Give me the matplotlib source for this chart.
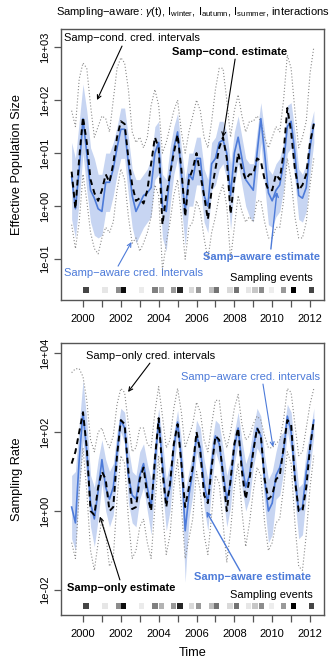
import numpy as np
import matplotlib
matplotlib.use('Agg')
import matplotlib.pyplot as plt
from matplotlib.transforms import blended_transform_factory

plt.rcParams['font.family'] = ['Liberation Sans', 'DejaVu Sans']
plt.rcParams['mathtext.fontset'] = 'custom'
plt.rcParams['mathtext.rm'] = 'Liberation Sans'
plt.rcParams['mathtext.it'] = 'Liberation Sans:italic'

BLUE = '#4d7bd9'
BAND = '#c7d5f2'
DOT = '#8a8a8a'
AXC = '#555555'
M = '\u2212'

# time grid (years), values below are log10
time = np.linspace(1999.4, 2012.2, 65)

# --- top: effective population size
ne_aware = [0.55, -0.05, 0.7, 1.65, 1.0, 0.3, 0.15, -0.05, -0.1, 0.45, 0.45, 0.7, 1.1,
            1.45, 1.45, 0.8, 0.2, -0.1, 0.05, 0.2, 0.25, 0.35, 1.0, 1.2, 0.0, -0.1,
            0.6, 1.1, 1.4, 0.6, -0.1, 0.6, 0.5, 0.9, 0.9, 0.2, 0.0, 0.8, 0.9, 1.2,
            1.25, 1.0, 0.2, 1.0, 1.3, 0.9, 0.5, 0.4, 0.3, 1.0, 1.65, 1.0, 0.25, 0.1,
            0.3, 0.4, 0.8, 1.5, 1.6, 1.0, 0.2, 0.15, 0.35, 1.1, 1.55]
ne_aware_hi = [1.2, 0.9, 1.6, 2.3, 1.8, 1.1, 0.9, 0.6, 0.6, 1.0, 1.0, 1.2, 1.5,
               1.85, 1.85, 1.3, 0.7, 0.5, 0.5, 0.6, 0.7, 0.9, 1.5, 1.6, 0.6, 0.5,
               1.1, 1.5, 1.75, 1.1, 0.5, 1.0, 1.0, 1.3, 1.3, 0.7, 0.5, 1.2, 1.3, 1.6,
               1.6, 1.4, 0.8, 1.4, 1.7, 1.3, 0.9, 0.8, 0.8, 1.4, 1.95, 1.4, 0.7, 0.6,
               0.8, 0.9, 1.2, 1.9, 1.95, 1.4, 0.7, 0.6, 0.8, 1.5, 1.8]
ne_aware_lo = [-0.25, -0.6, 0.1, 1.0, 0.3, -0.3, -0.55, -0.6, -0.55, -0.1, -0.1, 0.2, 0.6,
               0.9, 0.9, 0.2, -0.4, -0.7, -0.55, -0.4, -0.3, -0.2, 0.5, 0.6, -0.6, -0.85,
               0.0, 0.6, 0.9, 0.0, -0.75, 0.0, 0.0, 0.4, 0.4, -0.3, -0.5, 0.3, 0.4, 0.7,
               0.8, 0.5, -0.45, 0.4, 0.8, 0.4, 0.0, -0.2, -0.3, 0.5, 1.2, 0.4, -0.35, -0.4,
               -0.2, -0.1, 0.3, 1.0, 1.1, 0.5, -0.25, -0.3, -0.1, 0.6, 1.2]
ne_cond = [0.65, -0.05, 0.9, 1.68, 1.2, 0.5, 0.25, 0.1, 0.3, 0.6, 0.45, 0.8, 1.3,
           1.6, 1.55, 0.9, 0.4, 0.1, 0.15, 0.05, 0.3, 0.8, 1.3, 1.1, -0.35, 0.2,
           0.6, 1.0, 1.35, 0.7, -0.2, 0.5, 0.7, 1.0, 0.6, 0.2, -0.25, 0.3, 0.7, 1.1,
           1.3, 0.9, -0.15, 0.5, 1.0, 0.7, 0.5, 0.6, 0.6, 0.9, 0.85, 0.5, 0.3, 0.3,
           0.6, 0.5, 1.0, 1.85, 1.4, 0.7, 0.3, 0.4, 0.6, 1.2, 1.55]
ne_cond_hi = [1.8, 1.5, 2.4, 2.7, 2.6, 1.9, 1.3, 1.5, 1.7, 1.65, 1.4, 2.0, 2.6,
              2.8, 2.7, 2.2, 1.4, 1.2, 1.3, 1.1, 1.3, 1.9, 2.2, 1.9, 1.0, 1.2,
              1.5, 1.8, 2.0, 1.4, 1.0, 1.4, 1.7, 2.0, 1.8, 1.3, 1.1, 1.6, 2.2, 2.6,
              2.6, 2.0, 1.3, 1.8, 2.1, 1.7, 1.4, 1.6, 1.6, 1.7, 1.6, 1.3, 1.1, 1.3,
              1.5, 1.4, 2.0, 2.85, 2.6, 1.8, 1.1, 1.3, 1.6, 2.5, 3.0]
ne_cond_lo = [-0.35, -0.8, -0.3, 0.6, 0.1, -0.5, -0.8, -0.9, -0.6, -0.4, -0.5, -0.3, 0.3,
              0.7, 0.5, -0.2, -0.7, -0.6, -0.85, -0.7, -0.5, -0.2, 0.4, 0.2, -1.2, -0.7,
              -0.3, 0.2, 0.5, -0.2, -1.0, -0.4, -0.3, 0.1, -0.1, -0.6, -1.0, -0.5, -0.2, 0.2,
              0.4, 0.0, -1.0, -0.4, 0.2, -0.1, -0.3, -0.2, -0.3, 0.1, 0.1, -0.3, -0.6, -0.6,
              -0.4, -0.4, 0.1, 0.9, 0.5, -0.2, -0.6, -0.6, -0.3, 0.4, 0.9]

# --- bottom: sampling rate
sr_aware = [0.1, -0.3, 1.3, 2.5, 1.5, 0.2, -0.2, 0.5, 1.3, 0.6, 0.3, 0.6, 1.5,
            2.3, 2.1, 0.9, 0.4, 0.3, 0.9, 1.2, 0.6, 0.1, 1.2, 2.3, 1.2, 0.2,
            0.6, 1.6, 2.25, 1.3, -0.5, 0.4, 1.0, 1.9, 1.6, 0.7, 0.2, 1.2, 1.9, 1.7,
            1.0, 0.3, 0.7, 1.6, 2.1, 1.2, 0.6, 0.9, 1.6, 2.1, 1.9, 0.8, 0.0, 0.2,
            0.9, 1.1, 1.5, 2.4, 2.0, 0.9, 0.0, 0.1, 1.0, 1.6, 2.3]
sr_aware_hi = [0.9, 1.0, 2.2, 3.3, 2.3, 0.9, 0.6, 1.3, 1.8, 1.3, 1.0, 1.2, 2.0,
               2.6, 2.5, 1.6, 1.0, 0.9, 1.5, 1.7, 1.2, 0.8, 1.8, 2.6, 1.8, 0.8,
               1.2, 2.0, 2.55, 1.8, 0.5, 1.0, 1.5, 2.3, 2.1, 1.3, 0.8, 1.7, 2.3, 2.2,
               1.6, 0.9, 1.3, 2.0, 2.5, 1.8, 1.2, 1.5, 2.1, 2.6, 2.4, 1.4, 0.8, 1.0,
               1.5, 1.9, 2.0, 2.7, 2.5, 1.5, 0.6, 0.7, 1.5, 2.0, 2.6]
sr_aware_lo = [-0.7, -1.0, 0.5, 1.8, 0.8, -0.4, -0.9, -0.2, 0.7, 0.0, -0.4, -0.1, 1.0,
               2.0, 1.7, 0.2, -0.3, -0.4, 0.3, 0.6, 0.0, -0.6, 0.6, 2.0, 0.6, -0.5,
               0.0, 1.1, 1.9, 0.7, -1.8, -0.2, 0.4, 1.5, 1.1, 0.1, -0.5, 0.6, 1.5, 1.2,
               0.4, -0.4, 0.1, 1.2, 1.7, 0.6, 0.0, 0.3, 1.1, 1.6, 1.4, 0.2, -0.8, -0.6,
               0.3, 0.4, 1.0, 2.0, 1.5, 0.3, -0.7, -0.6, 0.4, 1.1, 1.9]
sr_only = [1.2, 1.5, 2.0, 2.5, 1.6, 0.0, -0.1, 0.6, 1.0, 0.8, 0.0, 0.1, 1.4,
           2.3, 2.2, 1.0, 0.05, 0.1, 0.8, 1.1, 0.4, 0.0, 1.3, 2.35, 1.0, 0.1,
           0.7, 1.7, 2.2, 1.2, 0.1, 0.6, 1.1, 2.0, 1.5, 0.4, 0.2, 1.1, 1.9, 1.8,
           0.9, 0.0, 0.8, 1.7, 2.1, 1.0, 0.3, 0.8, 1.5, 2.1, 1.9, 0.8, 0.3, 0.4,
           0.8, 0.9, 1.6, 2.3, 2.2, 0.8, 0.0, 0.0, 0.6, 1.6, 2.3]
sr_only_hi = [3.5, 3.6, 3.6, 3.4, 2.8, 1.8, 1.5, 2.0, 2.1, 1.8, 1.6, 1.9, 2.7,
              3.1, 3.0, 2.2, 1.5, 1.6, 2.1, 2.1, 1.7, 1.6, 2.5, 3.15, 2.4, 1.6,
              1.8, 2.6, 3.1, 2.5, 1.6, 1.9, 2.2, 2.75, 2.5, 1.8, 1.5, 2.2, 2.8, 2.8,
              2.0, 1.6, 2.0, 2.6, 2.95, 2.2, 1.8, 1.9, 2.2, 2.4, 2.3, 1.9, 1.6, 1.6,
              1.7, 1.8, 2.3, 3.1, 3.0, 2.2, 1.4, 1.5, 2.1, 2.7, 3.1]
sr_only_lo = [-0.8, -1.2, 0.5, 1.6, 0.5, -1.0, -1.5, -0.8, -0.2, -0.6, -1.4, -1.2, 0.3,
              1.4, 1.2, -0.2, -1.2, -1.0, -0.4, -0.2, -0.8, -1.2, 0.1, 1.4, 0.0, -1.1,
              -0.6, 0.6, 1.3, 0.1, -1.2, -0.7, -0.2, 1.0, 0.5, -0.6, -1.1, -0.1, 0.9, 0.7,
              -0.3, -1.3, -0.5, 0.6, 1.2, 0.0, -0.9, -0.3, 0.5, 1.1, 0.9, -0.3, -1.0, -0.8,
              -0.3, -0.2, 0.6, 1.5, 1.2, -0.3, -1.4, -1.5, -0.6, 0.6, 1.4]

# sampling events strip (time, grey level 0=black 1=white)
samp_time = [2000.16, 2001.16, 2001.87, 2002.13, 2003.10, 2003.81, 2004.16, 2004.77,
             2005.13, 2005.75, 2006.09, 2006.80, 2007.07, 2007.77, 2008.12, 2008.74,
             2009.09, 2009.45, 2009.97, 2010.59, 2011.12, 2012.09]
samp_grey = [0.27, 0.9, 0.55, 0.05, 0.92, 0.5, 0.7, 0.6, 0.15, 0.85, 0.6, 0.75,
             0.45, 0.85, 0.45, 0.9, 0.78, 0.55, 0.93, 0.6, 0.0, 0.27]


def draw_panel(ax, med, lo, hi, med2, lo2, hi2, ylim, yticks, ev_y):
    p = lambda v: 10 ** np.asarray(v)
    ax.set_yscale('log')
    ax.fill_between(time, p(lo), p(hi), color=BAND, lw=0, zorder=1)
    ax.plot(time, p(hi2), color=DOT, lw=0.8, ls=(0, (1, 1.8)), zorder=2)
    ax.plot(time, p(lo2), color=DOT, lw=0.8, ls=(0, (1, 1.8)), zorder=2)
    ax.plot(time, p(med), color=BLUE, lw=1.2, zorder=3)
    ax.plot(time, p(med2), color='black', lw=1.4, ls=(0, (3, 2.2)), zorder=4)
    tr = blended_transform_factory(ax.transData, ax.transAxes)
    ax.scatter(samp_time, [ev_y] * len(samp_time), marker='s', s=15,
               c=[str(g) for g in samp_grey], transform=tr, lw=0, zorder=5)
    ax.set_xlim(1998.837, 2012.738)
    ax.set_ylim(*ylim)
    ax.set_yticks(yticks)
    ax.set_yticklabels(['1e' + ('+' if k >= 0 else '-') + '%02d' % abs(k)
                        for k in np.log10(yticks).round().astype(int)])
    ax.yaxis.set_minor_locator(matplotlib.ticker.NullLocator())
    ax.set_xticks(range(2000, 2013))
    ax.set_xticklabels([str(y) if y % 2 == 0 else '' for y in range(2000, 2013)])
    ax.tick_params(axis='y', labelrotation=90, length=5, width=0.9, color=AXC,
                   labelsize=8, pad=3)
    ax.tick_params(axis='x', length=5, width=0.9, color=AXC, labelsize=8, pad=5)
    for lab in ax.get_yticklabels():
        lab.set_va('center')
    for s in ax.spines.values():
        s.set_color(AXC)
        s.set_linewidth(1.0)


fig = plt.figure(figsize=(3.32, 6.64), dpi=100)
ax1 = fig.add_axes([0.1837, 0.5482, 0.7922, 0.4081])
ax2 = fig.add_axes([0.1837, 0.0738, 0.7922, 0.4096])

draw_panel(ax1, ne_aware, ne_aware_lo, ne_aware_hi, ne_cond, ne_cond_lo, ne_cond_hi,
           (10 ** -1.77, 10 ** 3.34), [1e-1, 1e0, 1e1, 1e2, 1e3], 0.037)
draw_panel(ax2, sr_aware, sr_aware_lo, sr_aware_hi, sr_only, sr_only_lo, sr_only_hi,
           (10 ** -2.63, 10 ** 4.25), [1e-2, 1e0, 1e2, 1e4], 0.033)

fig.text(0.58, 0.982, 'Sampling' + M + r'aware: $\gamma$(t), I$_{\mathrm{winter}}$, '
         r'I$_{\mathrm{autumn}}$, I$_{\mathrm{summer}}$, interactions',
         ha='center', va='center', fontsize=8)
fig.text(0.051, 0.5482 + 0.4081 / 2, 'Effective Population Size', rotation=90,
         ha='center', va='center', fontsize=9.2)
fig.text(0.051, 0.0738 + 0.4096 / 2, 'Sampling Rate', rotation=90,
         ha='center', va='center', fontsize=9.2)
fig.text(0.58, 1 - 653 / 664, 'Time', ha='center', va='center', fontsize=9.2)

ak = dict(arrowstyle='->', lw=0.8, mutation_scale=7, shrinkA=0, shrinkB=0)
fs = 8

# top annotations
ax1.annotate('', xy=(0.137, 0.738), xytext=(0.232, 0.937), xycoords='axes fraction',
             arrowprops=dict(ak, color='black'))
ax1.text(0.011, 0.967, 'Samp' + M + 'cond. cred. intervals', transform=ax1.transAxes,
         ha='left', va='center', fontsize=fs)
ax1.annotate('', xy=(0.616, 0.601), xytext=(0.662, 0.889), xycoords='axes fraction',
             arrowprops=dict(ak, color='black'))
ax1.text(0.641, 0.915, 'Samp' + M + 'cond. estimate', transform=ax1.transAxes,
         ha='center', va='center', fontsize=fs, fontweight='bold')
ax1.annotate('', xy=(0.821, 0.399), xytext=(0.798, 0.188), xycoords='axes fraction',
             arrowprops=dict(ak, color=BLUE, lw=1.0))
ax1.text(0.764, 0.159, 'Samp' + M + 'aware estimate', transform=ax1.transAxes,
         ha='center', va='center', fontsize=fs, fontweight='bold', color=BLUE)
ax1.annotate('', xy=(0.268, 0.214), xytext=(0.217, 0.125), xycoords='axes fraction',
             arrowprops=dict(ak, color=BLUE))
ax1.text(0.011, 0.1, 'Samp' + M + 'aware cred. intervals', transform=ax1.transAxes,
         ha='left', va='center', fontsize=fs, color=BLUE)
ax1.text(0.958, 0.081, 'Sampling events', transform=ax1.transAxes,
         ha='right', va='center', fontsize=fs)

# bottom annotations
ax2.annotate('', xy=(0.255, 0.82), xytext=(0.338, 0.926), xycoords='axes fraction',
             arrowprops=dict(ak, color='black'))
ax2.text(0.095, 0.952, 'Samp' + M + 'only cred. intervals', transform=ax2.transAxes,
         ha='left', va='center', fontsize=fs)
ax2.annotate('', xy=(0.806, 0.618), xytext=(0.768, 0.849), xycoords='axes fraction',
             arrowprops=dict(ak, color=BLUE))
ax2.text(0.985, 0.875, 'Samp' + M + 'aware cred. intervals', transform=ax2.transAxes,
         ha='right', va='center', fontsize=fs, color=BLUE)
ax2.annotate('', xy=(0.553, 0.381), xytext=(0.681, 0.162), xycoords='axes fraction',
             arrowprops=dict(ak, color=BLUE, lw=1.0))
ax2.text(0.728, 0.14, 'Samp' + M + 'aware estimate', transform=ax2.transAxes,
         ha='center', va='center', fontsize=fs, fontweight='bold', color=BLUE)
ax2.annotate('', xy=(0.148, 0.362), xytext=(0.224, 0.129), xycoords='axes fraction',
             arrowprops=dict(ak, color='black'))
ax2.text(0.23, 0.099, 'Samp' + M + 'only estimate', transform=ax2.transAxes,
         ha='center', va='center', fontsize=fs, fontweight='bold')
ax2.text(0.958, 0.074, 'Sampling events', transform=ax2.transAxes,
         ha='right', va='center', fontsize=fs)

fig.savefig('out.png', dpi=100)
